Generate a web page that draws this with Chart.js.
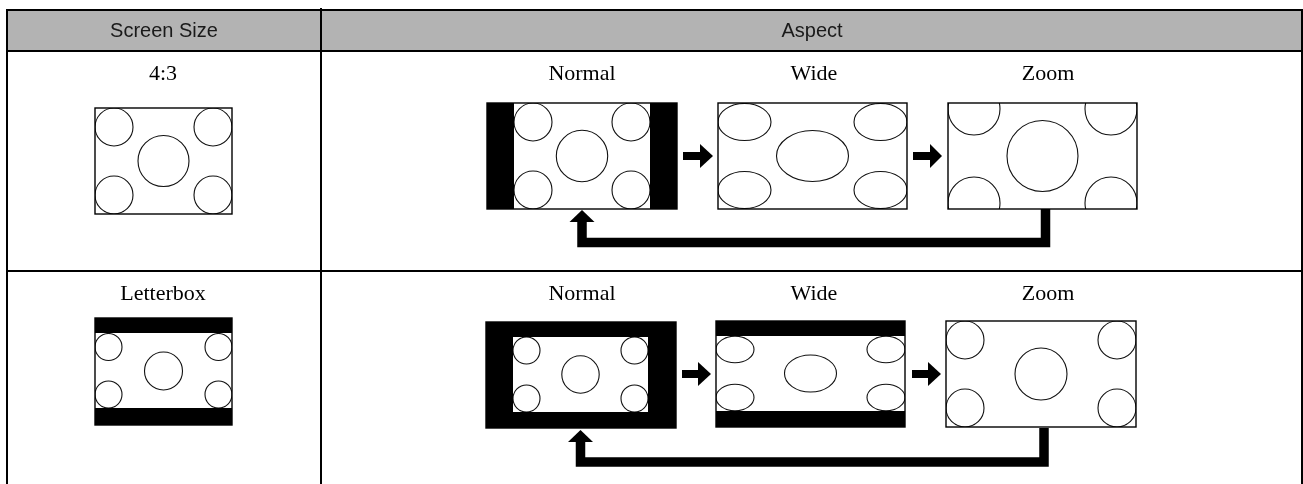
<!DOCTYPE html>
<html>
<head>
<meta charset="utf-8">
<script src="https://cdn.jsdelivr.net/npm/chart.js@4/dist/chart.umd.min.js"></script>
<style>
  body { margin: 0; background: #fff; }
  #aspect-chart { display: block; }
</style>
</head>
<body>
<canvas id="aspect-chart" width="1303" height="484"></canvas>
<script>
'use strict';

// header and labels
var columnTitles = ['Screen Size', 'Aspect'];
var rowTitles = ['4:3', 'Letterbox'];
var modeTitles = ['Normal', 'Wide', 'Zoom'];

// table grid, in chart units
var gridX = [7, 321, 1302];
var gridY = [10, 51, 271, 484];
var titleX = [164, 812];
var rowTitleX = 163;
var modeTitleX = [582, 814, 1048];
var labelBaseY = [80, 300];

// screens: outer frame [x0, y0, x1, y1] and visible picture [x0, y0, x1, y1]
var frames = [
    [95, 108, 232, 214], [487, 103, 677, 209], [718, 103, 907, 209], [948, 103, 1137, 209],
    [95, 318, 232, 425], [486, 322, 676, 428], [716, 321, 905, 427], [946, 321, 1136, 427]
];
var pictures = [
    [95, 108, 232, 214], [514, 103, 650, 209], [718, 103, 907, 209], [948, 103, 1137, 209],
    [95, 333, 232, 408], [513, 337, 648, 412], [716, 336, 905, 411], [946, 321, 1136, 427]
];

// circles / ellipses inside each picture: [cx, cy, rx, ry]
var shapes = [
    [[114, 127, 19, 19], [213, 127, 19, 19], [114, 195, 19, 19], [213, 195, 19, 19], [163.5, 161, 25.5, 25.5]],
    [[533, 122, 19, 19], [631, 122, 19, 19], [533, 190, 19, 19], [631, 190, 19, 19], [582, 156, 25.7, 25.7]],
    [[744.5, 122, 26.5, 18.5], [880.5, 122, 26.5, 18.5], [744.5, 190, 26.5, 18.5], [880.5, 190, 26.5, 18.5], [812.5, 156, 36, 25.5]],
    [[974, 109, 26, 26], [1111, 109, 26, 26], [974, 203, 26, 26], [1111, 203, 26, 26], [1042.5, 156, 35.5, 35.5]],
    [[108.5, 347, 13.5, 13.5], [218.5, 347, 13.5, 13.5], [108.5, 394.5, 13.5, 13.5], [218.5, 394.5, 13.5, 13.5], [163.5, 371, 19, 19]],
    [[526.5, 350.5, 13.5, 13.5], [634.5, 350.5, 13.5, 13.5], [526.5, 398.5, 13.5, 13.5], [634.5, 398.5, 13.5, 13.5], [580.5, 374.5, 18.7, 18.7]],
    [[735, 349.5, 19, 13.3], [886, 349.5, 19, 13.3], [735, 397.5, 19, 13.3], [886, 397.5, 19, 13.3], [810.5, 373.5, 26, 18.5]],
    [[965, 340, 19, 19], [1117, 340, 19, 19], [965, 408, 19, 19], [1117, 408, 19, 19], [1041, 374, 26, 26]]
];

// right arrows: [shaft start x, centre y, head base x, tip x]
var rightArrows = [[683, 156, 700, 713], [913, 156, 930, 942], [682, 374, 698, 711], [912, 374, 928, 941]];

// return arrows: [from x, from y, bottom y, to x, head base y, tip y]
var loopArrows = [[1045.5, 209, 242.5, 582, 222, 210], [1044, 428, 462, 580.5, 442, 430]];

var diagramPlugin = {
    id: 'diagram',
    beforeDraw: function (chart) {
        var ctx = chart.ctx;
        var sx = chart.scales.x, sy = chart.scales.y;
        var X = v => sx.getPixelForValue(v);
        var Y = v => sy.getPixelForValue(v);
        var W = (a, b) => X(b) - X(a);
        var H = (a, b) => Y(b) - Y(a);

        ctx.save();
        ctx.fillStyle = '#fff';
        ctx.fillRect(0, 0, chart.width, chart.height);

        // header band
        ctx.fillStyle = '#b3b3b3';
        ctx.fillRect(X(gridX[0]), Y(gridY[0]), W(gridX[0], gridX[2]), H(gridY[0], gridY[1]));

        // grid lines
        ctx.strokeStyle = '#000';
        ctx.lineWidth = 2;
        ctx.beginPath();
        [gridY[0], gridY[1], gridY[2]].forEach(y => {
            ctx.moveTo(X(gridX[0]) - 1, Y(y));
            ctx.lineTo(X(gridX[2]) + 1, Y(y));
        });
        ctx.moveTo(X(gridX[0]), Y(gridY[0]));
        ctx.lineTo(X(gridX[0]), Y(gridY[3]));
        ctx.moveTo(X(gridX[1]), Y(gridY[0]) - 2);
        ctx.lineTo(X(gridX[1]), Y(gridY[3]));
        ctx.moveTo(X(gridX[2]), Y(gridY[0]));
        ctx.lineTo(X(gridX[2]), Y(gridY[3]));
        ctx.stroke();

        // header text
        ctx.fillStyle = '#1a1a1a';
        ctx.font = '20px "Liberation Sans", Arial, sans-serif';
        ctx.textAlign = 'center';
        ctx.textBaseline = 'middle';
        columnTitles.forEach((t, i) => ctx.fillText(t, X(titleX[i]), Y((gridY[0] + gridY[1]) / 2 + 1)));

        // row / mode labels
        ctx.fillStyle = '#000';
        ctx.font = '22px "Liberation Serif", "Times New Roman", serif';
        ctx.textBaseline = 'alphabetic';
        rowTitles.forEach((t, r) => {
            ctx.fillText(t, X(rowTitleX), Y(labelBaseY[r]));
            modeTitles.forEach((m, i) => ctx.fillText(m, X(modeTitleX[i]), Y(labelBaseY[r])));
        });

        // screens
        frames.forEach((f, i) => {
            var p = pictures[i];
            ctx.fillStyle = '#000';
            ctx.fillRect(X(f[0]), Y(f[1]), W(f[0], f[2]), H(f[1], f[3]));
            ctx.fillStyle = '#fff';
            ctx.fillRect(X(p[0]), Y(p[1]), W(p[0], p[2]), H(p[1], p[3]));

            ctx.save();
            ctx.beginPath();
            ctx.rect(X(p[0]), Y(p[1]), W(p[0], p[2]), H(p[1], p[3]));
            ctx.clip();
            ctx.strokeStyle = '#111';
            ctx.lineWidth = 1.1;
            shapes[i].forEach(s => {
                ctx.beginPath();
                ctx.ellipse(X(s[0]), Y(s[1]), W(s[0], s[0] + s[2]), H(s[1], s[1] + s[3]), 0, 0, Math.PI * 2);
                ctx.stroke();
            });
            ctx.restore();

            ctx.strokeStyle = '#000';
            ctx.lineWidth = 1.4;
            ctx.strokeRect(X(f[0]), Y(f[1]), W(f[0], f[2]), H(f[1], f[3]));
        });

        // right arrows
        ctx.fillStyle = '#000';
        rightArrows.forEach(a => {
            ctx.fillRect(X(a[0]), Y(a[1] - 4), W(a[0], a[2]), H(a[1] - 4, a[1] + 4));
            ctx.beginPath();
            ctx.moveTo(X(a[2]), Y(a[1] - 12));
            ctx.lineTo(X(a[3]), Y(a[1]));
            ctx.lineTo(X(a[2]), Y(a[1] + 12));
            ctx.closePath();
            ctx.fill();
        });

        // return arrows
        loopArrows.forEach(a => {
            ctx.strokeStyle = '#000';
            ctx.lineWidth = 9.5;
            ctx.lineJoin = 'miter';
            ctx.beginPath();
            ctx.moveTo(X(a[0]), Y(a[1]));
            ctx.lineTo(X(a[0]), Y(a[2]));
            ctx.lineTo(X(a[3]), Y(a[2]));
            ctx.lineTo(X(a[3]), Y(a[4]));
            ctx.stroke();
            ctx.beginPath();
            ctx.moveTo(X(a[3] - 12.5), Y(a[4]));
            ctx.lineTo(X(a[3]), Y(a[5]));
            ctx.lineTo(X(a[3] + 12.5), Y(a[4]));
            ctx.closePath();
            ctx.fill();
        });

        ctx.restore();
    }
};

var chart = new Chart(document.getElementById('aspect-chart'), {
    type: 'scatter',
    data: { datasets: [{ data: [], showLine: false }] },
    options: {
        responsive: false,
        animation: false,
        events: [],
        layout: { padding: 0 },
        plugins: {
            legend: { display: false },
            tooltip: { enabled: false },
            title: { display: false }
        },
        scales: {
            x: { type: 'linear', min: 0, max: 1303, display: false },
            y: { type: 'linear', min: 0, max: 484, reverse: true, display: false }
        }
    },
    plugins: [diagramPlugin]
});
</script>
</body>
</html>
